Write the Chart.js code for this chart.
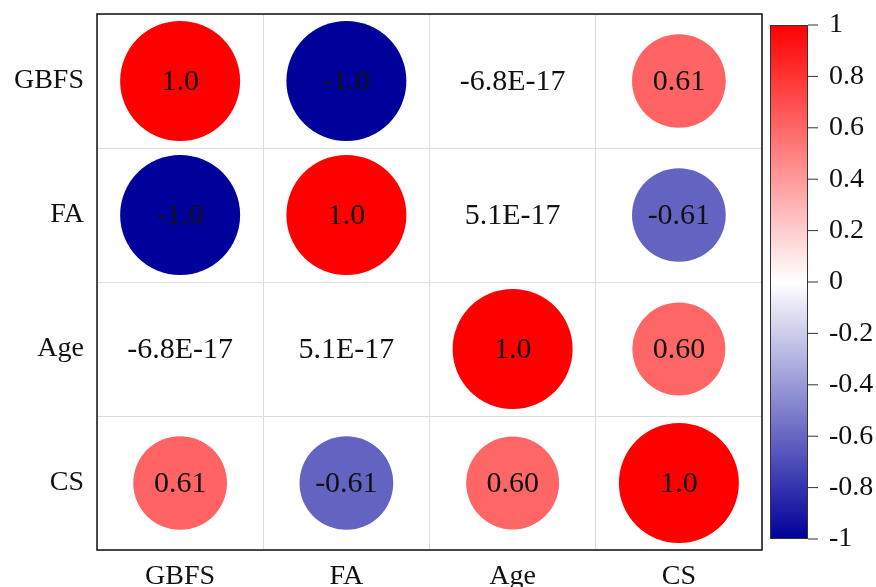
<!DOCTYPE html>
<html>
<head>
<meta charset="utf-8">
<script src="https://cdn.jsdelivr.net/npm/chart.js@4.4.1/dist/chart.umd.min.js"></script>
<style>
  body { margin: 0; background: #fff; }
  #wrap { width: 876px; height: 587px; }
</style>
</head>
<body>
<div id="wrap"><canvas id="corr-chart" width="876" height="587"></canvas></div>
<script>
// Variables (same order on both axes, top to bottom / left to right)
const variables = ['GBFS', 'FA', 'Age', 'CS'];

// Correlation matrix, one array per row
const rowGBFS = [1.0, -1.0, -6.8e-17, 0.61];
const rowFA = [-1.0, 1.0, 5.1e-17, -0.61];
const rowAge = [-6.8e-17, 5.1e-17, 1.0, 0.60];
const rowCS = [0.61, -0.61, 0.60, 1.0];
const matrix = [rowGBFS, rowFA, rowAge, rowCS];

// Colour bar ticks
const colorbarTicks = [1, 0.8, 0.6, 0.4, 0.2, 0, -0.2, -0.4, -0.6, -0.8, -1];

const FONT = '"Liberation Serif", "Times New Roman", serif';
const MAX_RADIUS = 60; // radius of a |r| = 1 bubble, px

// blue -> white -> red
function colorFor(v) {
    const t = Math.min(1, Math.abs(v));
    if (v >= 0) {
        const g = Math.round(255 * (1 - t));
        return `rgb(255, ${g}, ${g})`;
    }
    const c = Math.round(255 * (1 - t));
    const b = Math.round(255 - 100 * t);
    return `rgb(${c}, ${c}, ${b})`;
}

function formatValue(v) {
    if (Math.abs(v) < 1e-3) return v.toExponential(1).toUpperCase();
    if (Math.abs(v) === 1) return v.toFixed(1);
    return v.toFixed(2);
}

// Build bubble points from the matrix (bubble area ~ |r|)
const points = [];
matrix.forEach((row, i) => {
    row.forEach((v, j) => {
        points.push({ x: variables[j], y: variables[i], r: MAX_RADIUS * Math.sqrt(Math.abs(v)), v: v });
    });
});

// Draw the value text on top of each bubble + frame around the plot
const valueLabels = {
    id: 'valueLabels',
    afterDatasetsDraw(chart) {
        const ctx = chart.ctx;
        const meta = chart.getDatasetMeta(0);
        ctx.save();
        ctx.font = `30px ${FONT}`;
        ctx.fillStyle = '#111';
        ctx.textAlign = 'center';
        ctx.textBaseline = 'middle';
        meta.data.forEach((el, idx) => {
            ctx.fillText(formatValue(points[idx].v), el.x, el.y + 1);
        });
        const a = chart.chartArea;
        ctx.strokeStyle = '#111';
        ctx.lineWidth = 1.5;
        ctx.strokeRect(a.left, a.top, a.right - a.left, a.bottom - a.top);
        ctx.restore();
    }
};

// Colour bar on the right
const colorBar = {
    id: 'colorBar',
    afterDraw(chart) {
        const ctx = chart.ctx;
        const a = chart.chartArea;
        const x0 = a.right + 8, w = 38;
        const top = a.top + 11, bottom = a.bottom - 11;
        const grad = ctx.createLinearGradient(0, top, 0, bottom);
        for (let k = 0; k <= 20; k++) {
            grad.addColorStop(k / 20, colorFor(1 - k / 10));
        }
        ctx.save();
        ctx.fillStyle = grad;
        ctx.fillRect(x0, top, w, bottom - top);
        ctx.strokeStyle = '#333';
        ctx.lineWidth = 1;
        ctx.strokeRect(x0 + 0.5, top + 0.5, w - 1, bottom - top - 1);
        ctx.font = `28px ${FONT}`;
        ctx.fillStyle = '#111';
        ctx.textAlign = 'left';
        ctx.textBaseline = 'middle';
        colorbarTicks.forEach(t => {
            const y = top + (1 - t) / 2 * (bottom - top);
            ctx.beginPath();
            ctx.moveTo(x0 + w, y);
            ctx.lineTo(x0 + w + 10, y);
            ctx.stroke();
            ctx.fillText(String(t), x0 + w + 21, y);
        });
        ctx.restore();
    }
};

const ctx = document.getElementById('corr-chart').getContext('2d');
new Chart(ctx, {
    type: 'bubble',
    data: {
        datasets: [{
            data: points,
            clip: false,
            borderWidth: 0,
            hoverBorderWidth: 0,
            backgroundColor: points.map(p => colorFor(p.v))
        }]
    },
    options: {
        responsive: false,
        animation: false,
        events: [],
        layout: { autoPadding: false, padding: { top: 14, right: 114, left: 0, bottom: 0 } },
        scales: {
            x: {
                type: 'category',
                labels: variables,
                offset: true,
                grid: { offset: true, color: '#ddd', drawTicks: false },
                border: { display: false },
                ticks: { color: '#111', padding: 10, font: { family: FONT, size: 28 } },
                afterFit: s => { s.height = 37; s.paddingLeft = 0; s.paddingRight = 0; }
            },
            y: {
                type: 'category',
                labels: variables,
                offset: true,
                grid: { offset: true, color: '#ddd', drawTicks: false },
                border: { display: false },
                ticks: { color: '#111', padding: 13, font: { family: FONT, size: 28 } },
                afterFit: s => { s.width = 97; s.paddingTop = 0; s.paddingBottom = 0; }
            }
        },
        plugins: {
            legend: { display: false },
            tooltip: { enabled: false }
        }
    },
    plugins: [valueLabels, colorBar]
});
</script>
</body>
</html>
